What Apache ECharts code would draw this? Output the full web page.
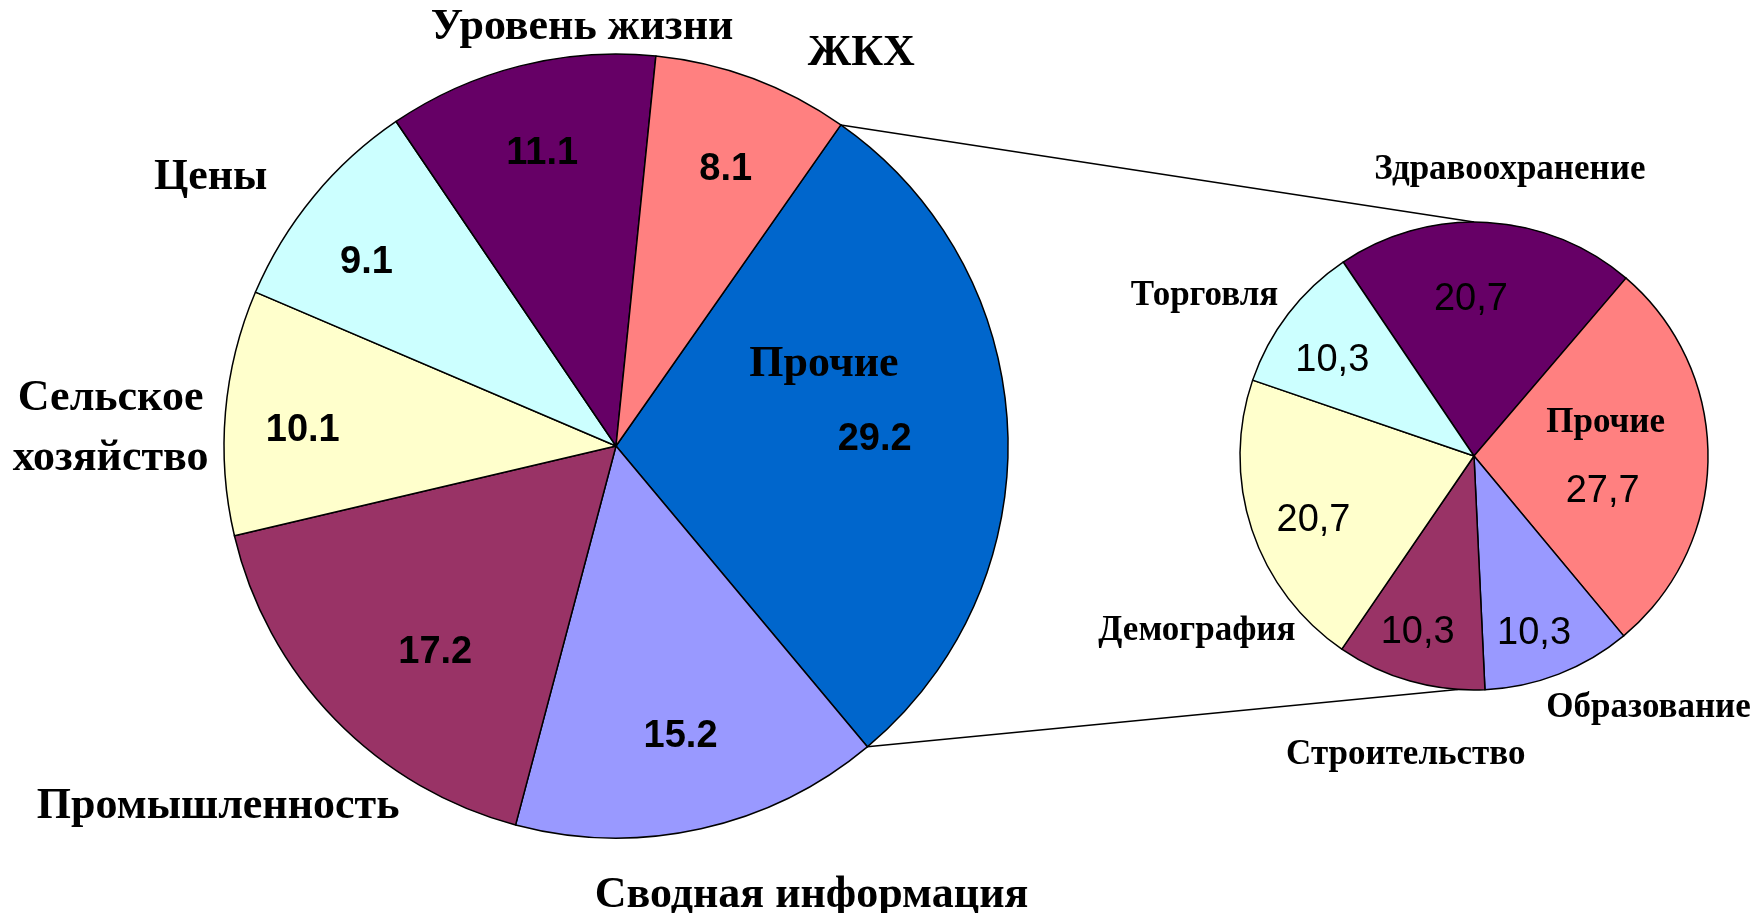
<!DOCTYPE html>
<html>
<head>
    <meta charset="utf-8" />
    <title>Pie of pie</title>
    <style>
        html, body { margin: 0; padding: 0; background: #fff; }
        #main { width: 1756px; height: 913px; }
    </style>
</head>
<body>
<div id="main"></div>
<script src="https://cdn.jsdelivr.net/npm/echarts@6/dist/echarts.min.js"></script>
<script>
    // main pie (clockwise from the "Прочие" slice)
    var leftNames = ['Прочие', 'Сводная информация', 'Промышленность', 'Сельское\nхозяйство', 'Цены', 'Уровень жизни', 'ЖКХ'];
    var leftValues = [29.2, 15.2, 17.2, 10.1, 9.1, 11.1, 8.1];
    // breakdown of "Прочие" (clockwise from top)
    var rightNames = ['Здравоохранение', 'Прочие', 'Образование', 'Строительство', 'Демография', 'Торговля'];
    var rightValues = [20.7, 27.7, 10.3, 10.3, 20.7, 10.3];

    var leftColors = ['#0066CC', '#9999FF', '#993366', '#FFFFCC', '#CCFFFF', '#660066', '#FF8080'];
    var rightColors = ['#660066', '#FF8080', '#9999FF', '#993366', '#FFFFCC', '#CCFFFF'];

    // geometry (px) and start angle (deg clockwise from 12 o'clock)
    var L = { cx: 616, cy: 446, r: 392, start: 35 };
    var R = { cx: 1474, cy: 456, r: 234, start: -34 };

    // label placement: [distance as part of radius, angle nudge in deg]
    var leftNamePos = [[0.57, -19], [1.25, -11], [1.37, 2], [1.29, -3], [1.24, -6], [1.07, 9.5], [1.18, 11.6]];
    var leftValPos = [[0.66, 1], [0.76, 0], [0.70, -4.6], [0.80, -2.2], [0.79, -3.2], [0.77, 0], [0.76, 1.2]];
    var rightNamePos = [[1.23, 3.9], [0.58, -14.5], [1.31, -13.5], [1.31, -3], [1.40, -13.9], [1.34, -6.7]];
    var rightValPos = [[0.67, -4.4], [0.57, 14.9], [0.80, 2.5], [0.79, 1.9], [0.74, -3.7], [0.73, -3.5]];

    function midAngles(values, start) {
        var total = values.reduce(function (a, b) { return a + b; }, 0);
        var acc = start, out = [];
        values.forEach(function (v) {
            var span = v / total * 360;
            out.push(acc + span / 2);
            acc += span;
        });
        return out;
    }
    function polar(g, dist, deg) {
        var a = deg * Math.PI / 180;
        return [g.cx + dist * Math.sin(a), g.cy - dist * Math.cos(a)];
    }

    var leftMid = midAngles(leftValues, L.start);
    var rightMid = midAngles(rightValues, R.start);

    function pieData(names, values, colors) {
        return names.map(function (n, i) {
            return { name: n, value: values[i], itemStyle: { color: colors[i] } };
        });
    }

    function basePie(g, names, values, colors) {
        return {
            type: 'pie',
            center: [g.cx, g.cy],
            radius: g.r,
            startAngle: 90 - g.start,
            clockwise: true,
            silent: true,
            label: { show: false },
            labelLine: { show: false },
            itemStyle: { borderColor: '#000', borderWidth: 1.5 },
            data: pieData(names, values, colors)
        };
    }

    function labelPie(g, names, values, mids, pos, labelStyle) {
        return {
            type: 'pie',
            center: [g.cx, g.cy],
            radius: g.r,
            startAngle: 90 - g.start,
            clockwise: true,
            silent: true,
            itemStyle: { color: 'rgba(0,0,0,0)', borderWidth: 0 },
            labelLine: { show: false },
            label: Object.assign({ show: true, position: 'inside', color: '#000' }, labelStyle),
            labelLayout: function (p) {
                var i = p.dataIndex;
                var pt = polar(g, pos[i][0] * g.r, mids[i] + pos[i][1]);
                return { x: pt[0], y: pt[1], align: 'center', verticalAlign: 'middle' };
            },
            data: names.map(function (n, i) { return { name: n, value: values[i] }; })
        };
    }

    var chart = echarts.init(document.getElementById('main'));

    // connector lines: edges of "Прочие" to top / bottom of the second pie
    var total = leftValues.reduce(function (a, b) { return a + b; }, 0);
    var p1 = polar(L, L.r, L.start);
    var p2 = polar(L, L.r, L.start + leftValues[0] / total * 360);
    var q1 = polar(R, R.r, 0);
    var q2 = polar(R, R.r, 184);

    chart.setOption({
        backgroundColor: '#fff',
        animation: false,
        graphic: [
            { type: 'line', shape: { x1: p1[0], y1: p1[1], x2: q1[0], y2: q1[1] }, style: { stroke: '#000', lineWidth: 1.5 }, z: -1 },
            { type: 'line', shape: { x1: p2[0], y1: p2[1], x2: q2[0], y2: q2[1] }, style: { stroke: '#000', lineWidth: 1.5 }, z: -1 }
        ],
        series: [
            basePie(L, leftNames, leftValues, leftColors),
            basePie(R, rightNames, rightValues, rightColors),
            labelPie(L, leftNames, leftValues, leftMid, leftValPos, {
                formatter: '{c}', fontFamily: 'Liberation Sans', fontWeight: 'bold', fontSize: 38
            }),
            labelPie(L, leftNames, leftValues, leftMid, leftNamePos, {
                formatter: '{b}', fontFamily: 'Liberation Serif', fontWeight: 'bold', fontSize: 44, lineHeight: 60
            }),
            labelPie(R, rightNames, rightValues, rightMid, rightValPos, {
                formatter: function (p) { return String(p.value).replace('.', ','); },
                fontFamily: 'Liberation Sans', fontSize: 38
            }),
            labelPie(R, rightNames, rightValues, rightMid, rightNamePos, {
                formatter: '{b}', fontFamily: 'Liberation Serif', fontWeight: 'bold', fontSize: 35
            })
        ]
    });
</script>
</body>
</html>
